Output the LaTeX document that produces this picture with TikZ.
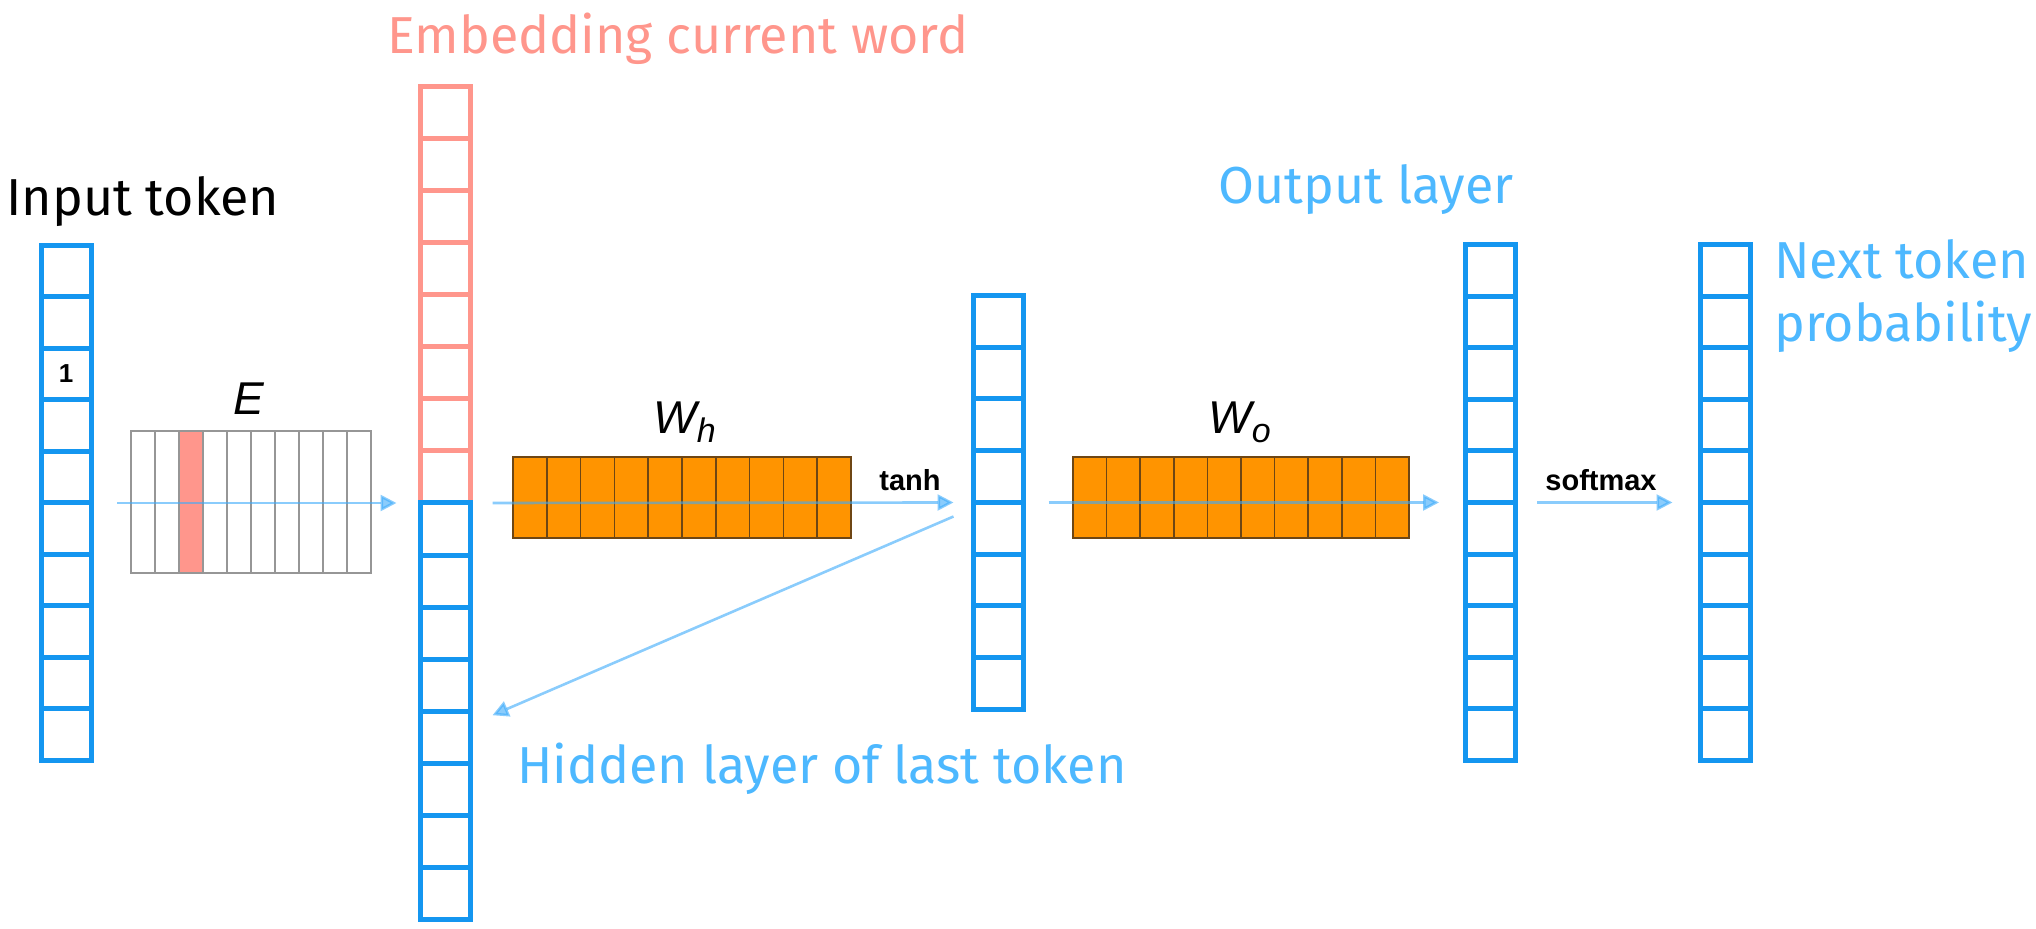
\documentclass[tikz,border=0pt]{standalone}
\usepackage{fontspec}
\setmainfont{Liberation Sans}
\newfontfamily\labfont{Fira Sans}
\usetikzlibrary{arrows.meta}
\definecolor{colblue}{RGB}{20,150,240}
\definecolor{colred}{RGB}{255,150,140}
\definecolor{txtblue}{RGB}{77,184,255}
\definecolor{txtred}{RGB}{255,150,140}
\definecolor{arrblue}{RGB}{60,170,250}
\definecolor{matorange}{RGB}{255,148,0}
\definecolor{matline}{RGB}{110,70,20}
\definecolor{egray}{RGB}{150,150,150}
\tikzset{
  cellcol/.style={line width=2.5pt, minimum width=25pt, inner sep=0pt, outer sep=0pt, anchor=north},
  arr/.style={draw=arrblue, opacity=0.6, line width=1.3pt, -{Triangle[length=8pt,width=8pt]}},
  lab/.style={font=\labfont\fontsize{26}{31}\selectfont, inner sep=0pt, anchor=base west},
  oplab/.style={font=\bfseries\fontsize{14.5}{17}\selectfont, inner sep=0pt, anchor=base},
  matlab/.style={font=\itshape\fontsize{23}{27}\selectfont, inner sep=0pt, anchor=base west},
  matbox/.style={draw=matline, fill=matorange, line width=0.8pt, inner sep=0pt, outer sep=0pt},
}
% name, x, ytop, n, color, cell height (px), n-1
\newcommand\mycol[7]{%
  \node[cellcol, draw=#5, minimum height=#4*#6*0.5pt] (#1) at (#2,#3) {};
  \foreach \k in {1,...,#7}{%
    \draw[#5, line width=2.5pt] ([yshift=-\k*#6*0.5pt]#1.north west) -- ([yshift=-\k*#6*0.5pt]#1.north east);
  }%
}
\begin{document}
\begin{tikzpicture}[x=0.5pt,y=-0.5pt]
\useasboundingbox (0,0) rectangle (2036,929);

% columns
\mycol{in}{66}{245.5}{10}{colblue}{51.5}{9}
\mycol{embr}{445.5}{86.5}{8}{colred}{52.06}{7}
\mycol{embb}{445.5}{503}{8}{colblue}{52.06}{7}
\mycol{hid}{998.5}{295.5}{8}{colblue}{51.75}{7}
\mycol{out}{1490}{244.5}{10}{colblue}{51.6}{9}
\mycol{nxt}{1725.5}{244.5}{10}{colblue}{51.6}{9}

\node[font=\bfseries\fontsize{13}{16}\selectfont, inner sep=0pt] (one) at (66,374) {1};

% embedding matrix E
\node[minimum width=120pt, minimum height=71pt, inner sep=0pt, outer sep=0pt] (E) at (251,502) {};
\fill[colred] ([xshift=24pt]E.north west) rectangle ([xshift=36pt]E.south west);
\draw[egray, line width=1pt] (E.north west) rectangle (E.south east);
\foreach \k in {1,...,9}{\draw[egray, line width=1pt] ([xshift=\k*12pt]E.north west) -- ([xshift=\k*12pt]E.south west);}
\node[matlab, anchor=base] (Elab) at (249,415) {E};

% W_h
\node[matbox, minimum width=169pt, minimum height=40.5pt] (Wh) at (682,497.5) {};
\foreach \k in {1,...,9}{\draw[matline, line width=0.8pt] ([xshift=\k*16.9pt]Wh.north west) -- ([xshift=\k*16.9pt]Wh.south west);}
\node[matlab] (Whlab) at (653,434) {W\raisebox{-4.5pt}{\fontsize{17}{20}\selectfont h}};

% W_o
\node[matbox, minimum width=168pt, minimum height=40.5pt] (Wo) at (1241,497.5) {};
\foreach \k in {1,...,9}{\draw[matline, line width=0.8pt] ([xshift=\k*16.8pt]Wo.north west) -- ([xshift=\k*16.8pt]Wo.south west);}
\node[matlab] (Wolab) at (1208,434) {W\raisebox{-4.5pt}{\fontsize{17}{20}\selectfont o}};

% arrows
\draw[arr] ([xshift=13pt]in.east) -- ([xshift=-12pt]embb.north west);
\draw[arr] ([xshift=11pt]embb.north east) -- ([xshift=-10pt]hid.west);
\draw[arr] ([xshift=-10pt,yshift=-7pt]hid.west) -- ([xshift=11pt,yshift=-2pt]embb.east);
\draw[arr] ([xshift=12.5pt]hid.east) -- ([xshift=-13pt]out.west);
\draw[arr] ([xshift=11pt]out.east) -- ([xshift=-14pt]nxt.west);
\node[oplab] (tanh) at (910,491) {tanh};
\node[oplab] (softmax) at (1601,491) {softmax};

% labels
\node[lab] (lin) at (6,216) {Input token};
\node[lab, text=txtred] (lemb) at (387,54) {Embedding current word};
\node[lab, text=txtblue] (lout) at (1218,204) {Output layer};
\node[lab, text=txtblue] (lhid) at (517,784) {Hidden layer of last token};
\node[lab, text=txtblue] (lnext1) at (1774,279) {Next token};
\node[lab, text=txtblue] (lnext2) at (1774,342) {probability};
\end{tikzpicture}
\end{document}
